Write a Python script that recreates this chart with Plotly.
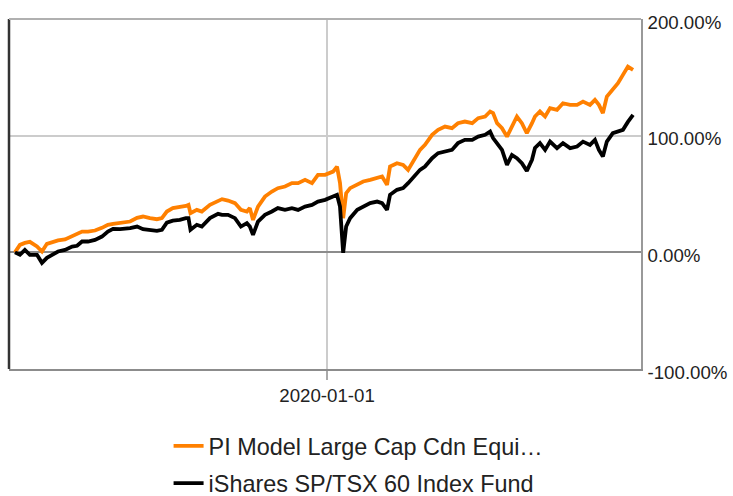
import plotly.graph_objects as go

dates = [
    "2015-09-12", "2015-10-07", "2015-11-01", "2015-11-26", "2016-01-01", "2016-01-26", "2016-02-20",
    "2016-03-16", "2016-04-16", "2016-05-21", "2016-06-26", "2016-07-21", "2016-08-15", "2016-09-14",
    "2016-10-19", "2016-11-23", "2016-12-23", "2017-01-18", "2017-02-22", "2017-04-14", "2017-05-19",
    "2017-06-18", "2017-07-23", "2017-08-27", "2017-09-21", "2017-10-16", "2017-11-15", "2017-12-20",
    "2018-01-20", "2018-02-02", "2018-02-12", "2018-03-16", "2018-04-10", "2018-05-21", "2018-07-01",
    "2018-07-21", "2018-08-20", "2018-09-24", "2018-10-24", "2018-11-23", "2018-12-08", "2018-12-24",
    "2019-01-18", "2019-02-22", "2019-03-29", "2019-04-28", "2019-06-03", "2019-07-08", "2019-08-08",
    "2019-09-12", "2019-10-17", "2019-11-16", "2019-12-22", "2020-01-31", "2020-02-20", "2020-03-06",
    "2020-03-22", "2020-04-06", "2020-04-26", "2020-06-01", "2020-07-01", "2020-08-05", "2020-09-09",
    "2020-10-04", "2020-10-29", "2020-11-13", "2020-12-18", "2021-01-18", "2021-02-12", "2021-03-09",
    "2021-04-13", "2021-05-08", "2021-06-13", "2021-07-13", "2021-08-17", "2021-09-21", "2021-10-21",
    "2021-11-25", "2022-01-01", "2022-01-31", "2022-03-07", "2022-04-01", "2022-04-16", "2022-05-06",
    "2022-05-31", "2022-06-25", "2022-07-20", "2022-08-14", "2022-09-08", "2022-10-03", "2022-10-29",
    "2022-11-13", "2022-12-08", "2023-01-03", "2023-01-28", "2023-03-04", "2023-04-03", "2023-05-09",
    "2023-06-13", "2023-07-13", "2023-08-17", "2023-09-11", "2023-10-01", "2023-10-21", "2023-11-10",
    "2023-12-10", "2024-01-05", "2024-01-30", "2024-02-24", "2024-03-21",
]

pi_model = [
    0.0, 6.4, 8.1, 9.0, 5.0, 0.7, 7.3, 8.6, 10.3, 11.1, 14.1, 15.9, 17.8, 17.8, 18.7, 21.0, 23.6,
    24.4, 25.5, 26.4, 29.6, 30.7, 29.3, 28.4, 29.3, 35.0, 37.9, 38.7, 39.8, 40.7, 33.6, 36.4, 35.0,
    40.7, 44.6, 45.6, 44.4, 42.2, 36.4, 35.0, 37.9, 27.8, 39.2, 47.8, 52.1, 55.0, 56.4, 59.3, 59.3,
    62.1, 59.3, 66.4, 66.4, 69.2, 73.5, 59.6, 29.3, 50.7, 55.0, 57.8, 60.7, 62.1, 63.6, 65.0, 57.8,
    73.5, 76.4, 75.0, 70.7, 77.8, 87.8, 92.1, 100.7, 105.0, 107.8, 106.4, 110.7, 112.1, 110.7, 115.0,
    116.4, 120.7, 119.3, 110.7, 106.4, 99.2, 107.8, 116.4, 110.7, 102.1, 110.7, 116.4, 120.7, 116.4,
    123.6, 122.1, 127.8, 126.4, 126.4, 129.2, 126.4, 130.7, 126.4, 119.3, 133.5, 139.2, 145.0, 152.1,
    159.2, 156.4,
]

ishares = [
    0.0, -2.1, 2.1, -2.1, -2.1, -9.0, -4.7, -2.1, 0.7, 2.1, 5.0, 5.6, 9.3, 9.3, 10.7, 13.5, 17.8,
    20.1, 19.9, 20.7, 22.1, 19.9, 19.3, 18.4, 19.3, 25.5, 27.2, 27.8, 29.3, 29.3, 19.3, 23.6, 22.1,
    29.3, 33.0, 32.1, 32.1, 29.3, 22.1, 25.0, 22.1, 15.0, 26.4, 32.1, 35.0, 37.9, 36.4, 37.9, 36.4,
    39.2, 40.7, 43.5, 45.0, 47.8, 49.3, 39.2, -0.4, 22.1, 29.3, 36.4, 39.2, 42.2, 43.5, 42.2, 36.4,
    49.3, 53.6, 55.0, 59.3, 63.6, 70.7, 73.5, 80.7, 85.0, 86.4, 87.8, 93.6, 96.4, 96.4, 99.2,
    100.7, 103.5, 97.9, 93.6, 87.8, 75.0, 83.5, 80.7, 76.4, 69.8, 79.3, 89.5, 93.6, 87.8,
    94.9, 89.3, 93.6, 89.3, 90.7, 94.9, 92.1, 96.4, 87.8, 82.1, 94.9, 102.1, 103.5, 105.0,
    111.8, 117.8,
]

series_names = ["PI Model Large Cap Cdn Equi…", "iShares SP/TSX 60 Index Fund"]
series_colors = ["#FF8000", "#000000"]
y_ticks = [-100, 0, 100, 200]
y_tick_labels = ["-100.00%", "0.00%", "100.00%", "200.00%"]
x_ticks = ["2020-01-01"]
x_tick_labels = ["2020-01-01"]
x_range = ["2015-08-13", "2024-04-30"]

FONT = "Liberation Sans, Arial, sans-serif"
TEXT = "#222222"

fig = go.Figure()
for name, vals, color, grp in zip(series_names, [pi_model, ishares], series_colors, ["a", "b"]):
    fig.add_trace(go.Scatter(
        x=dates, y=vals, mode="lines", name=name, legendgroup=grp,
        line=dict(color=color, width=3.8),
    ))

fig.update_layout(
    width=733, height=496,
    margin=dict(l=9, r=92, t=19, b=127, autoexpand=False),
    paper_bgcolor="white", plot_bgcolor="white",
    font=dict(family=FONT, size=18.7, color=TEXT),
    showlegend=True,
    legend=dict(
        orientation="v", xref="paper", x=0.2525, xanchor="left",
        yref="container", y=0.145, yanchor="top",
        traceorder="grouped", tracegroupgap=4,
        font=dict(family=FONT, size=23.4, color=TEXT),
        bgcolor="rgba(0,0,0,0)",
    ),
    xaxis=dict(
        type="date", range=x_range,
        tickmode="array", tickvals=x_ticks, ticktext=x_tick_labels,
        showgrid=True, gridcolor="#cccccc", gridwidth=1.5,
        showline=True, linecolor="#8c8c8c", linewidth=2,
        ticks="outside", ticklen=9, tickcolor="#aaaaaa", tickwidth=1.5,
        zeroline=False,
        tickfont=dict(family=FONT, size=18.7, color=TEXT),
    ),
    yaxis=dict(
        side="right", range=[-100, 200],
        tickmode="array", tickvals=y_ticks, ticktext=y_tick_labels,
        ticklabeloverflow="allow",
        showgrid=True, gridcolor="#cccccc", gridwidth=1.5,
        zeroline=True, zerolinecolor="#8c8c8c", zerolinewidth=2,
        showline=True, linecolor="#999999", linewidth=1.5,
        ticks="", ticklabelstandoff=1, ticklabelshift=3,
        tickfont=dict(family=FONT, size=18.7, color=TEXT),
    ),
    shapes=[
        dict(type="line", xref="paper", yref="paper", x0=0, x1=0, y0=0, y1=1,
             line=dict(color="#333333", width=2.5)),
        dict(type="line", xref="paper", yref="paper", x0=0, x1=1, y0=1, y1=1,
             line=dict(color="#b0b0b0", width=2)),
    ],
)

fig.write_html(
    "out.html",
    config={"displayModeBar": False},
    post_script="document.body.style.margin='0';document.body.style.overflow='hidden';",
)
